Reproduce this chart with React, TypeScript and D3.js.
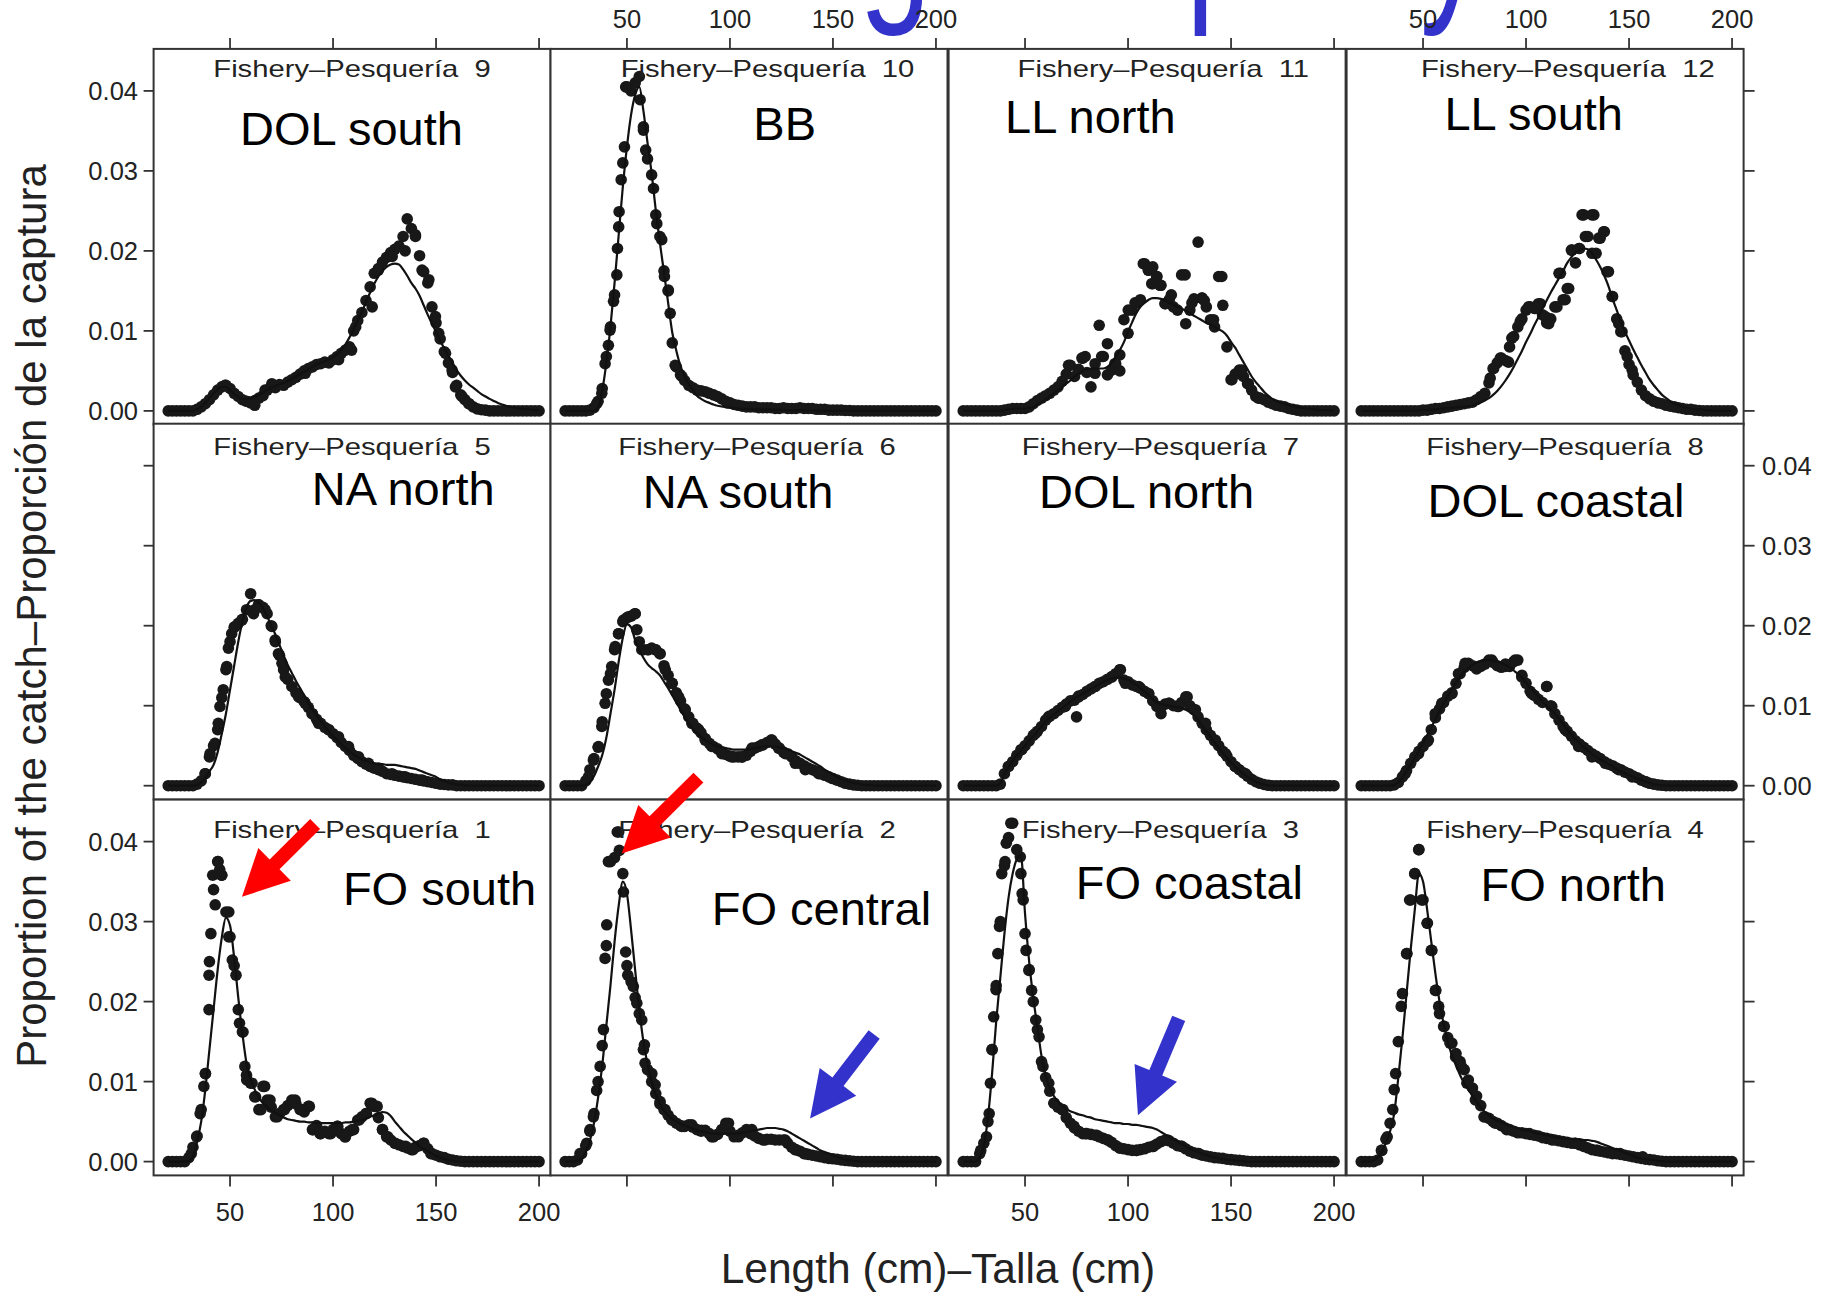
import React from "react";
import * as d3 from "d3";

// ---------- DATA (proportion of catch, in units of 0.001) ----------
const lengthBins: number[] = d3.range(20, 201, 2); // cm, 20..200

const obs9 = [
 0,0,0,0,0,0,0,0.2,0.5,0.9,
 1.4,2.0,2.6,3.0,3.2,2.8,2.2,1.8,1.4,1.2,
 1.0,1.3,1.6,1.9,2.6,3.0,2.9,3.3,3.2,3.6,
 3.9,4.2,4.6,5.0,5.3,5.5,5.8,5.9,6.1,6.0,
 6.4,6.8,7.2,7.6,8.0,10.0,11.3,12.3,13.8,15.5,
 17.2,17.8,18.6,19.2,19.8,20.2,20.6,21.8,24.0,22.8,
 21.8,19.4,17.4,16.0,13.0,11.0,9.0,7.4,6.0,4.8,
 3.2,2.0,1.4,0.9,0.5,0.25,0.15,0.1,0,0,
 0,0,0,0,0,0,0,0,0,0,
 0];
const fit9 = [
 0,0,0,0,0,0,0,0.2,0.5,1.0,
 1.6,2.2,2.7,3.0,3.0,2.6,2.1,1.7,1.5,1.5,
 1.6,1.8,2.0,2.3,2.6,2.9,3.1,3.3,3.5,3.7,
 4.0,4.3,4.6,4.9,5.2,5.5,5.8,6.0,6.2,6.4,
 6.7,7.1,7.6,8.3,9.2,10.2,11.3,12.4,13.6,14.8,
 15.9,16.8,17.5,18.0,18.3,18.4,18.3,17.7,16.9,16.0,
 15.3,14.4,13.2,12.0,10.9,9.9,8.8,7.8,6.9,6.0,
 5.1,4.4,3.8,3.3,2.9,2.5,2.1,1.8,1.5,1.25,
 1.0,0.8,0.65,0.5,0.4,0.3,0.25,0.2,0.15,0.1,
 0.08];
const extra9: [number, number][] = [
 [47.6,3.2],[59,1.15],[62,0.7],[67,2.6],[70.3,3.4],[86.5,4.7],[102.7,6.4],[109,7.6],[111,10.5],
 [119,13.0],[122,17.6],[128.7,19.3],[135,20.0],[140,22.0],[143.2,17.6],[146.5,16.4],[149.7,11.8],
 [151.3,9.7],[154.6,7.2],[157.8,5.1],[159.4,3.0],[162.6,1.8],[165.9,0.9]];

const obs10 = [
 0,0,0,0,0,0,0.1,0.4,1.2,2.8,
 6.8,10.5,14.5,23.0,31.0,40.5,40.0,41.0,41.8,35.5,
 31.5,29.5,24.5,21.8,17.5,15.0,8.5,5.5,4.5,3.8,
 3.2,2.9,2.6,2.5,2.4,2.2,2.0,1.8,1.5,1.2,
 1.0,0.8,0.7,0.6,0.5,0.5,0.5,0.4,0.4,0.4,
 0.4,0.3,0.3,0.4,0.3,0.3,0.3,0.4,0.3,0.3,
 0.3,0.2,0.2,0.2,0.1,0.1,0.1,0.1,0.05,0.05,
 0,0,0,0,0,0,0,0,0,0,
 0,0,0,0,0,0,0,0,0,0,
 0];
const fit10 = [
 0,0,0,0,0,0,0,0,0.4,2.5,
 6.0,10.5,16.0,22.0,28.0,33.0,37.0,39.5,40.5,37.5,
 33.5,29.7,25.1,21.0,17.3,13.5,9.8,7.5,5.6,4.3,
 3.3,2.6,1.9,1.5,1.2,1.0,0.8,0.65,0.55,0.45,
 0.4,0.35,0.3,0.3,0.25,0.25,0.2,0.2,0.2,0.2,
 0.15,0.15,0.15,0.1,0.1,0.1,0.1,0.1,0.05,0.05,
 0.05,0.05,0,0,0,0,0,0,0,0,
 0,0,0,0,0,0,0,0,0,0,
 0,0,0,0,0,0,0,0,0,0,
 0];
const extra10: [number, number][] = [
 [35.3,0.9],[37.8,2.2],[39.4,5.9],[41,8.2],[41.8,10.1],[43.5,13.7],[45.1,17.0],[45.4,20.3],[46.2,24.9],
 [47.2,28.9],[48.8,33.0],[49.4,40.5],[56.4,38.9],[58,35.1],[59.1,32.6],[62.9,27.8],[64.5,23.4],
 [66.9,21.4],[68.2,16.8],[70.1,15.1],[71,12.2],[73.4,5.7],[76.7,4.3]];

const obs11 = [
 0,0,0,0,0,0,0,0,0,0,
 0.1,0.2,0.3,0.3,0.3,0.3,0.5,0.9,1.3,1.6,
 1.9,2.2,2.6,3.0,3.7,4.6,5.7,4.3,5.2,6.6,
 4.8,3.0,4.7,10.7,6.8,8.4,5.1,5.9,7.0,11.4,
 9.7,12.6,13.5,13.9,18.4,17.6,15.9,16.8,15.7,13.4,
 13.9,13.0,12.6,17.0,10.9,12.6,14.0,21.1,14.1,13.0,
 11.4,10.5,16.8,13.2,8.0,3.9,4.6,5.1,4.3,3.4,
 2.6,1.8,1.6,1.4,1.1,0.9,0.7,0.6,0.5,0.3,
 0.2,0.1,0,0,0,0,0,0,0,0,
 0];
const fit11 = [
 0,0,0,0,0,0,0,0,0,0,
 0.1,0.2,0.25,0.3,0.3,0.3,0.35,0.5,0.85,1.1,
 1.4,1.8,2.2,2.6,3.0,3.4,3.8,4.3,4.7,5.0,
 5.2,5.3,5.3,5.3,5.3,5.5,6.0,6.8,7.6,8.6,
 9.9,11.1,12.2,13.0,13.5,13.9,14.1,14.1,14.0,13.8,
 13.5,13.3,13.0,12.8,12.5,12.2,11.9,11.6,11.3,11.0,
 10.8,10.5,10.2,9.9,9.4,8.6,7.9,7.0,6.1,5.2,
 4.3,3.6,3.0,2.4,1.9,1.5,1.2,1.0,0.85,0.7,
 0.6,0.5,0.4,0.3,0.25,0.2,0.15,0.1,0.08,0.05,
 0.03];
const extra11: [number, number][] = [
 [71.1,5.7],[77.6,6.6],[79.2,6.8],[84,5.9],[87.2,6.8],[90,4.5],[93.6,5.9],[96,5.0],[100.1,12.6],
 [103.4,13.5],[107.4,18.4],[109.8,17.6],[111.5,15.9],[112,18.0],[113.9,16.8],[115.5,15.7],[118,13.4],
 [121,14.5],[127.7,17.0],[131,13.5],[135.8,14.1],[137,13.8],[141.5,11.4],[145.5,16.8],[150.4,3.9],
 [155.2,5.1],[158.4,3.4],[163.3,1.6]];

const obs12 = [
 0,0,0,0,0,0,0,0,0,0,
 0,0,0,0,0,0.1,0.1,0.2,0.3,0.3,
 0.4,0.5,0.6,0.7,0.8,0.9,1.0,1.1,1.4,1.8,
 2.2,3.5,5.3,6.0,6.6,6.3,8.0,9.3,10.5,11.5,
 12.6,13.0,12.8,13.4,12.0,11.0,11.5,13.0,17.2,13.9,
 15.3,20.1,18.5,20.3,24.5,21.8,24.5,19.7,21.6,22.4,
 17.4,14.3,11.5,9.9,7.5,5.8,4.5,3.6,2.6,1.9,
 1.5,1.2,1.0,0.9,0.7,0.6,0.5,0.4,0.3,0.2,
 0.2,0.1,0.05,0,0,0,0,0,0,0,
 0];
const fit12 = [
 0,0,0,0,0,0,0,0,0,0,
 0,0,0,0,0.05,0.1,0.1,0.15,0.2,0.25,
 0.3,0.35,0.4,0.45,0.5,0.55,0.6,0.7,0.9,1.05,
 1.3,1.6,2.0,2.5,3.1,3.8,4.6,5.5,6.5,7.5,
 8.6,9.6,10.7,11.7,12.8,13.8,14.8,15.7,16.6,17.5,
 18.5,19.2,19.8,20.1,20.3,20.2,19.7,18.9,18.0,16.9,
 15.6,14.0,12.6,11.2,9.9,8.8,7.7,6.7,5.7,4.8,
 3.9,3.2,2.6,2.0,1.6,1.2,0.9,0.7,0.5,0.4,
 0.3,0.25,0.2,0.15,0.1,0.05,0,0,0,0,
 0];
const extra12: [number, number][] = [
 [82.6,4.1],[84.3,5.3],[87.5,6.6],[91.5,6.1],[93.1,9.1],[97.2,11.2],[101.2,13.0],[104.5,12.8],
 [106.9,13.4],[109.3,11.8],[111,10.9],[115,13.0],[116.7,17.2],[119,13.9],[120.7,15.3],[122.3,20.1],
 [125.6,20.3],[128.8,21.8],[127.2,24.5],[132,19.7],[132.9,24.5],[135.3,21.6],[137.7,22.4],
 [139.3,17.4],[141.8,14.3],[145,10.9],[146.6,9.9],[149.1,6.8],[151.5,5.1]];

const obs5 = [
 0,0,0,0,0,0,0,0.2,0.6,1.5,
 3.6,5.0,7.0,11.0,14.5,18.0,19.8,20.3,20.8,22.0,
 24.0,22.0,22.6,22.3,21.5,20.0,18.0,16.3,14.5,13.3,
 12.4,11.6,11.0,10.5,9.8,9.0,8.3,7.8,7.3,7.0,
 6.5,6.0,5.4,4.9,4.4,3.8,3.4,3.0,2.7,2.4,
 2.2,2.0,1.8,1.5,1.4,1.3,1.2,1.1,1.0,0.9,
 0.8,0.7,0.6,0.5,0.4,0.3,0.2,0.15,0.1,0.1,
 0,0,0,0,0,0,0,0,0,0,
 0,0,0,0,0,0,0,0,0,0,
 0];
const fit5 = [
 0,0,0,0,0,0,0,0.1,0.4,1.0,
 1.8,2.6,4.2,6.5,9.0,12.0,15.0,18.0,20.5,22.3,
 23.1,23.2,22.9,22.2,21.2,20.0,18.9,17.6,16.3,15.1,
 14.1,13.1,12.2,11.3,10.3,9.5,8.8,8.1,7.4,6.8,
 6.2,5.7,5.2,4.7,4.3,3.9,3.6,3.3,3.1,2.9,
 2.8,2.7,2.7,2.6,2.6,2.6,2.5,2.4,2.3,2.2,
 2.1,1.9,1.7,1.5,1.3,1.1,0.8,0.6,0.4,0.25,
 0.15,0.1,0.05,0,0,0,0,0,0,0,
 0,0,0,0,0,0,0,0,0,0,
 0];
const extra5: [number, number][] = [
 [37.9,1.5],[40.3,4.0],[42.7,5.3],[44.3,7.8],[45.1,9.9],[46.7,12.0],[48.4,14.9],[49.2,17.2],[50.8,19.0],
 [52.4,19.9],[55.7,20.7],[61.4,21.5],[63.8,22.6],[67,22.0],[70.3,19.9],[71.9,18.2],[73.5,16.5],
 [75.2,15.3],[76.8,13.6],[83.3,11.1],[86.5,10.3],[89.8,9.0],[93,7.8],[97.8,7.0],[102.7,6.1],
 [107.5,4.9],[112.4,3.6],[117.2,2.8],[122.1,2.2],[128.6,1.5],[135,1.1],[143.2,0.7]];

const obs6 = [
 0,0,0,0,0,0.6,2.0,3.4,4.8,8.0,
 11.5,14.0,17.0,19.0,20.5,21.0,21.2,21.5,18.0,17.0,
 17.0,17.2,17.0,16.5,15.0,13.8,12.8,11.6,10.6,9.6,
 8.6,7.8,7.2,6.6,5.9,5.3,4.9,4.6,4.2,3.9,
 3.7,3.6,3.6,3.6,3.8,4.3,4.7,4.9,5.1,5.4,
 5.7,5.2,4.7,4.2,4.0,3.6,3.1,2.8,2.5,2.2,
 2.0,1.8,1.5,1.3,1.1,0.9,0.7,0.5,0.3,0.2,
 0.1,0.05,0,0,0,0,0,0,0,0,
 0,0,0,0,0,0,0,0,0,0,
 0];
const fit6 = [
 0,0,0,0,0,0.1,0.4,1.2,2.4,3.8,
 6.0,9.0,12.0,15.5,18.5,20.2,19.8,18.2,17.0,16.0,
 15.2,14.7,14.3,13.8,13.0,12.2,11.3,10.4,9.5,8.6,
 7.8,7.1,6.6,6.1,5.7,5.4,5.1,4.9,4.8,4.7,
 4.6,4.5,4.5,4.5,4.5,4.6,4.7,4.8,4.9,4.9,
 4.9,4.9,4.8,4.7,4.5,4.3,4.1,3.9,3.6,3.3,
 3.0,2.7,2.4,2.0,1.7,1.4,1.1,0.9,0.7,0.5,
 0.35,0.25,0.15,0.1,0.05,0,0,0,0,0,
 0,0,0,0,0,0,0,0,0,0,
 0];
const extra6: [number, number][] = [
 [31.3,1.1],[33.7,3.2],[36.2,4.9],[37.8,7.4],[39.4,10.3],[41,13.2],[42.6,14.9],[44.3,17.4],[45.9,19.0],
 [48.3,20.7],[50.7,21.1],[53.9,21.5],[54.8,19.5],[57.2,17.0],[60.5,17.0],[63.7,17.0],[66.1,16.5],
 [68.6,14.5],[71.8,12.8],[75.1,11.1],[78.3,9.5],[81.5,7.8],[84.8,7.0],[88,5.7],[91.2,4.9],[96.1,4.0],
 [100.9,3.6],[105.8,3.6],[110.7,4.7],[115.5,5.1],[120.4,5.7],[123.6,4.7],[126.9,4.0],[131.7,2.8],
 [136.6,2.0],[143.1,1.5],[149.6,0.9]];

const obs7 = [
 0,0,0,0,0,0,0,0,0,0.2,
 1.5,2.4,3.0,3.8,4.5,5.0,5.6,6.3,6.8,7.4,
 8.2,8.7,9.0,9.4,9.8,10.2,10.6,10.7,11.2,11.4,
 11.8,12.1,12.4,12.8,13.0,13.3,13.6,14.0,14.5,13.2,
 13.0,12.6,12.4,12.2,11.8,11.5,10.6,9.9,9.8,10.2,
 10.3,10.0,9.9,10.4,11.1,10.0,9.5,8.6,7.8,7.0,
 6.3,5.6,5.0,4.3,3.7,3.0,2.4,2.0,1.6,1.2,
 0.8,0.5,0.3,0.15,0.05,0,0,0,0,0,
 0,0,0,0,0,0,0,0,0,0,
 0];
const fit7 = [
 0,0,0,0,0,0,0,0,0,0.3,
 1.4,2.3,3.1,3.8,4.4,5.0,5.6,6.2,6.8,7.4,
 8.0,8.5,8.9,9.3,9.7,10.1,10.5,10.9,11.2,11.5,
 11.8,12.1,12.4,12.7,13.0,13.2,13.4,13.5,13.5,13.4,
 13.2,12.9,12.6,12.2,11.8,11.3,10.8,10.4,10.2,10.1,
 10.0,9.9,9.8,9.7,9.5,9.2,8.8,8.2,7.5,6.8,
 6.1,5.4,4.7,4.1,3.5,2.9,2.4,1.9,1.5,1.1,
 0.8,0.5,0.3,0.15,0.05,0,0,0,0,0,
 0,0,0,0,0,0,0,0,0,0,
 0];
const extra7: [number, number][] = [
 [41.9,2.4],[48.4,4.5],[54.9,6.5],[61.4,8.6],[69.5,9.9],[75,8.6],[76,11.1],[84.1,12.4],[92.2,13.6],
 [96.3,14.5],[98.7,12.8],[105.2,12.4],[110,11.5],[114.9,9.9],[116,9.0],[119.8,10.3],[124.6,9.9],
 [128.7,11.1],[132.7,9.5],[137.6,7.8],[142.4,5.7],[147.3,4.0],[152.1,2.4],[157,1.5]];

const obs8 = [
 0,0,0,0,0,0,0,0,0.1,0.4,
 1.1,1.9,2.8,3.6,4.3,4.9,5.5,7.0,8.5,9.6,
 10.4,11.2,11.6,12.8,14.0,14.8,15.3,15.0,14.6,14.9,
 15.2,15.7,15.4,15.0,14.8,15.2,14.9,15.5,15.7,13.8,
 12.8,11.8,11.3,10.8,10.4,12.4,10.0,9.0,8.2,7.4,
 6.8,6.2,5.6,5.2,4.8,4.4,4.0,3.7,3.4,3.0,
 2.7,2.5,2.2,2.0,1.7,1.5,1.2,1.0,0.7,0.5,
 0.3,0.2,0.1,0.05,0,0,0,0,0,0,
 0,0,0,0,0,0,0,0,0,0,
 0];
const fit8 = [
 0,0,0,0,0,0,0,0,0.1,0.4,
 1.0,1.8,2.6,3.5,4.4,5.3,6.3,7.3,8.3,9.3,
 10.3,11.2,12.1,12.9,13.6,14.2,14.7,15.1,15.4,15.6,
 15.7,15.7,15.6,15.5,15.3,15.1,14.8,14.4,14.0,13.5,
 12.9,12.3,11.7,11.1,10.5,10.0,9.5,9.0,8.4,7.7,
 7.0,6.4,5.8,5.3,4.8,4.4,4.0,3.6,3.3,3.0,
 2.7,2.4,2.1,1.8,1.6,1.3,1.1,0.9,0.7,0.5,
 0.35,0.2,0.1,0.05,0,0,0,0,0,0,
 0,0,0,0,0,0,0,0,0,0,
 0];
const extra8: [number, number][] = [
 [41.3,1.5],[47.8,4.0],[52.6,5.7],[55.9,9.0],[59.1,10.3],[64,11.5],[67.2,14.0],[70.4,15.3],[76.9,14.9],
 [83.4,15.7],[89.9,14.9],[94.7,15.7],[97.9,13.6],[102.8,11.5],[110.1,12.4],[112.5,9.9],[119,7.0],
 [125.5,4.9],[132,3.6],[138.5,2.8],[145,2.0],[151.5,1.1],[158,0.5]];

const obs1 = [
 0,0,0,0,0,0.5,1.8,3.2,6.5,11.0,
 25.0,34.0,37.5,35.8,31.2,28.1,24.5,19.0,16.2,10.8,
 9.8,8.1,6.5,9.4,7.7,6.8,5.6,6.0,6.5,7.0,
 7.7,7.2,6.5,6.2,6.9,4.0,4.5,3.5,3.8,3.5,
 4.0,4.4,3.5,3.1,3.8,4.0,5.2,5.6,6.0,7.3,
 6.9,5.5,4.0,3.1,2.7,2.3,2.1,1.9,1.7,1.5,
 1.8,2.0,2.3,1.6,1.0,0.8,0.6,0.5,0.3,0.2,
 0.1,0.05,0,0,0,0,0,0,0,0,
 0,0,0,0,0,0,0,0,0,0,
 0];
const fit1 = [
 0,0,0,0,0,0.1,0.6,2.5,5.0,9.0,
 14.0,19.0,24.0,28.0,30.5,29.5,25.5,20.5,16.0,12.3,
 10.3,9.0,8.0,7.3,6.8,6.4,6.1,5.8,5.5,5.3,
 5.2,5.1,5.0,5.0,4.9,4.9,4.8,4.8,4.8,4.8,
 4.8,4.8,4.8,4.9,4.9,5.0,5.1,5.2,5.4,5.6,
 5.8,6.0,6.2,6.1,5.7,5.0,4.4,3.8,3.3,2.8,
 2.4,1.9,1.6,1.3,1.0,0.7,0.5,0.35,0.2,0.1,
 0.05,0,0,0,0,0,0,0,0,0,
 0,0,0,0,0,0,0,0,0,0,
 0];
const extra1: [number, number][] = [
 [31.2,1.0],[33.8,3.1],[35.5,6.0],[37.3,9.4],[38.1,11.0],[39.8,19.0],[39.8,23.3],[40.7,28.5],
 [42.8,32.1],[41.6,35.8],[44.2,37.5],[45,36.5],[45.9,35.8],[49.4,31.2],[49.4,28.1],[51.1,25.2],
 [52.9,23.3],[54.6,17.3],[56.3,16.2],[57.2,11.9],[58.1,10.2],[60.7,9.8],[62.4,8.1],[65,6.5],
 [66.8,9.4],[69.4,7.7],[72.9,5.6],[76.4,6.5],[81.6,7.7],[85,6.5],[88.5,6.9],[90.2,4.0],[93.7,3.5],
 [98.9,3.5],[102.3,4.4],[105.8,3.1],[109.3,4.0],[112.7,5.2],[116.2,6.0],[118.8,7.3],[121.4,6.9],
 [124,4.0],[126.6,3.1],[130.1,2.3],[135.3,1.9],[138.8,1.5],[144,2.3],[147.5,1.0]];

const obs2 = [
 0,0,0,0.2,1.0,2.0,3.8,6.0,10.0,14.5,
 27.0,37.5,38.0,41.2,36.0,24.5,22.5,20.5,18.5,14.0,
 11.5,10.0,8.5,7.2,6.5,5.8,5.2,4.8,4.5,4.4,
 4.6,4.3,4.0,3.8,3.9,3.5,3.1,3.4,4.0,4.8,
 3.8,3.1,3.3,3.6,4.0,3.5,3.2,2.9,2.7,2.8,
 2.8,2.7,2.7,2.7,2.3,1.8,1.5,1.3,1.0,0.9,
 0.8,0.7,0.6,0.5,0.4,0.35,0.3,0.2,0.15,0.1,
 0.05,0,0,0,0,0,0,0,0,0,
 0,0,0,0,0,0,0,0,0,0,
 0];
const fit2 = [
 0,0,0,0.1,0.4,1.2,2.6,4.8,8.0,12.0,
 17.0,22.0,27.5,32.0,35.0,33.5,29.0,23.9,19.0,15.0,
 12.2,10.0,8.4,7.2,6.4,5.8,5.3,5.0,4.7,4.5,
 4.3,4.1,3.9,3.8,3.7,3.6,3.5,3.5,3.5,3.5,
 3.5,3.5,3.5,3.6,3.7,3.8,3.9,4.0,4.1,4.2,
 4.2,4.2,4.1,4.0,3.8,3.5,3.2,2.9,2.6,2.3,
 2.0,1.7,1.4,1.2,1.0,0.8,0.6,0.4,0.3,0.2,
 0.1,0.05,0,0,0,0,0,0,0,0,
 0,0,0,0,0,0,0,0,0,0,
 0];
const extra2: [number, number][] = [
 [27.2,1.0],[30.5,2.3],[32.1,4.0],[33.7,5.6],[35.3,8.9],[37,11.9],[38.6,16.5],[39.4,25.4],[40.2,29.6],
 [41,37.5],[45.3,41.2],[46.3,38.9],[48.3,33.7],[49.4,26.2],[50.4,23.3],[53.1,21.9],[54.8,19.8],
 [57.2,17.7],[58.5,14.6],[58.8,12.3],[62.1,11.0],[63.7,9.6],[66.1,7.5],[68.5,6.5],[71.8,5.2],
 [76.6,4.4],[81.5,4.6],[86.3,3.9],[91.2,3.1],[99.3,4.8],[104.1,3.1],[110.6,4.0],[117.1,2.7],
 [126.8,2.7],[131.6,1.5],[136.5,1.0]];

const obs3 = [
 0,0,0,0,1.0,2.3,5.0,14.0,22.0,30.0,
 37.0,40.5,42.3,39.0,36.0,28.5,24.0,20.0,16.5,12.5,
 10.5,8.8,7.3,6.8,6.5,5.5,4.8,4.2,3.8,3.5,
 3.5,3.4,3.3,3.1,2.9,2.7,2.4,2.0,1.7,1.6,
 1.5,1.4,1.4,1.5,1.6,1.8,1.9,2.2,2.5,2.7,
 2.6,2.3,2.0,1.9,1.6,1.3,1.1,1.0,0.8,0.7,
 0.6,0.5,0.45,0.4,0.3,0.25,0.2,0.15,0.1,0.05,
 0,0,0,0,0,0,0,0,0,0,
 0,0,0,0,0,0,0,0,0,0,
 0];
const fit3 = [
 0,0,0,0,0.5,2.0,5.5,11.0,17.5,23.0,
 28.5,33.0,36.0,37.8,38.3,31.0,25.0,20.5,16.8,13.2,
 10.8,9.2,8.2,7.5,7.0,6.6,6.3,6.1,5.9,5.8,
 5.6,5.5,5.3,5.2,5.1,5.0,4.9,4.8,4.8,4.7,
 4.7,4.6,4.6,4.5,4.4,4.3,4.2,4.0,3.7,3.4,
 3.1,2.8,2.5,2.2,1.9,1.6,1.4,1.2,1.0,0.8,
 0.65,0.5,0.4,0.3,0.25,0.2,0.15,0.1,0.05,0,
 0,0,0,0,0,0,0,0,0,0,
 0,0,0,0,0,0,0,0,0,0,
 0];
const extra3: [number, number][] = [
 [28.5,1.4],[31.3,3.1],[32.6,6.0],[33.2,9.8],[34,14.0],[34.8,18.1],[35.9,21.5],[36.8,26.0],[37.6,29.4],
 [38.7,36.0],[40.3,37.5],[40.9,39.8],[43.1,42.3],[47.7,38.1],[48.6,33.5],[49.1,32.7],[50.5,26.4],
 [51.9,23.9],[53.2,21.4],[55.2,17.7],[56.8,15.6],[58.7,11.9],[61.5,9.8],[64.2,7.3],[68.4,6.5],
 [73.8,4.4],[79.3,3.5],[84.8,3.3],[90.3,2.7],[95.8,1.7],[104.1,1.4],[112.3,1.9],[119.2,2.7],
 [126,1.9],[134.3,1.0]];

const obs4 = [
 0,0,0,0,0.2,1.4,2.8,4.8,9.0,15.0,
 21.0,26.0,32.7,36.0,39.0,32.7,29.8,26.4,21.4,18.5,
 16.9,15.5,14.8,13.5,12.5,11.5,10.2,9.2,8.2,7.0,
 5.6,5.4,5.0,4.8,4.5,4.2,4.0,3.8,3.6,3.6,
 3.5,3.4,3.3,3.2,3.0,2.9,2.8,2.7,2.6,2.5,
 2.4,2.3,2.3,2.1,1.9,1.7,1.5,1.4,1.3,1.2,
 1.1,1.0,1.0,0.9,0.8,0.7,0.6,0.5,0.4,0.3,
 0.25,0.2,0.1,0.05,0,0,0,0,0,0,
 0,0,0,0,0,0,0,0,0,0,
 0];
const fit4 = [
 0,0,0,0.1,0.5,1.2,2.4,3.8,6.0,10.5,
 15.5,21.0,26.5,31.5,36.0,35.0,31.5,27.5,23.5,20.0,
 17.2,15.0,13.3,12.0,10.8,9.8,9.0,8.2,7.5,6.8,
 6.2,5.8,5.4,5.1,4.9,4.7,4.5,4.3,4.2,4.0,
 3.9,3.8,3.6,3.5,3.4,3.3,3.2,3.1,3.0,2.9,
 2.9,2.8,2.8,2.8,2.7,2.7,2.6,2.5,2.3,2.1,
 1.9,1.7,1.5,1.3,1.1,0.9,0.7,0.5,0.4,0.3,
 0.25,0.2,0.1,0.05,0,0,0,0,0,0,
 0,0,0,0,0,0,0,0,0,0,
 0];
const extra4: [number, number][] = [
 [29.8,1.4],[32.6,3.1],[35.3,6.5],[36.7,11.0],[39.4,19.4],[42.2,26.0],[43.5,32.7],[46,36.0],[47.9,39.0],
 [49.3,32.7],[52.1,29.8],[54.3,26.4],[56.2,21.4],[57.6,19.4],[60.3,16.9],[63.1,14.8],[65.8,13.1],
 [68.6,11.9],[71.3,9.8],[75.4,7.7],[79.6,5.6],[85.1,4.8],[90.6,4.0],[101.6,3.5],[112.6,2.7],
 [123.6,2.3],[134.6,1.4],[145.6,1.0],[156.6,0.6]];

// panel order: top row 9-12, middle 5-8, bottom 1-4
const fisheryNumbers = [9, 10, 11, 12, 5, 6, 7, 8, 1, 2, 3, 4];
const fleetNames = ["DOL south", "BB", "LL north", "LL south", "NA north", "NA south",
  "DOL north", "DOL coastal", "FO south", "FO central", "FO coastal", "FO north"];
const observed = [obs9, obs10, obs11, obs12, obs5, obs6, obs7, obs8, obs1, obs2, obs3, obs4];
const extraObserved = [extra9, extra10, extra11, extra12, extra5, extra6, extra7, extra8, extra1, extra2, extra3, extra4];
const fitted = [fit9, fit10, fit11, fit12, fit5, fit6, fit7, fit8, fit1, fit2, fit3, fit4];

const xTickValues = [50, 100, 150, 200];
const yTickValues = [0, 10, 20, 30, 40]; // x 0.001

// annotation arrows: [panel index, colour, from (cm, 0.001), to (cm, 0.001)]
const RED = "#ff0000";
const BLUE = "#3333cc";
const arrowSpecs: [number, string, [number, number], [number, number]][] = [
  [8, RED, [91.3, 42.2], [55.8, 33.1]],
  [9, RED, [84.7, 48.0], [47.5, 38.5]],
  [9, BLUE, [170, 15.9], [138.9, 5.4]],
  [10, BLUE, [124.6, 17.9], [104.8, 5.8]],
];

// cut-off slide title: only the descenders of three letters remain visible
const titleGlyphs: [string, number][] = [["g", 859], ["p", 1186], ["y", 1420]];

// ---------- LAYOUT ----------
const W = 1825, H = 1292;
const COL_X = [153.6, 550.5, 948.6, 1346.6];
const ROW_Y = [48.9, 423.7, 799.6];
const PW = 397, PH = 375.8;
const STRIP_CX = [198.4, 217, 214.7, 221.2, 198.4, 206.5, 211.8, 218.4, 198.4, 206.5, 211.8, 218.4];
const STRIP_BASE = [27.8, 31.3, 38.7];
const LABEL_POS: [number, number][] = [
  [86.4, 96.1], [202.8, 91.1], [56.4, 84.4], [97.8, 81.1],
  [158.1, 81.3], [92.2, 84.6], [90.4, 84.6], [80.9, 93],
  [189.3, 105.4], [161.2, 125.4], [127.2, 99.7], [133.9, 101.4],
];
const FONT = "'Liberation Sans', Arial, Helvetica, sans-serif";
const INK = "#181818";
const DOT_R = 5.8;

const xScale = d3.scaleLinear().domain([12.9, 205.6]).range([0, PW]);
const yScale = d3.scaleLinear().domain([-1.725, 45.25]).range([PH, 0]);

function arrowPolygon(x0: number, y0: number, x1: number, y1: number) {
  const shaft = 14, headL = 46, headW = 46;
  const dx = x1 - x0, dy = y1 - y0;
  const L = Math.hypot(dx, dy);
  const ux = dx / L, uy = dy / L;
  const px = -uy, py = ux;
  const bx = x1 - ux * headL, by = y1 - uy * headL;
  const s = shaft / 2, h = headW / 2;
  const pts = [
    [x0 + px * s, y0 + py * s],
    [bx + px * s, by + py * s],
    [bx + px * h, by + py * h],
    [x1, y1],
    [bx - px * h, by - py * h],
    [bx - px * s, by - py * s],
    [x0 - px * s, y0 - py * s],
  ];
  return pts.map((p) => p.join(",")).join(" ");
}

export default function App() {
  const line = d3
    .line<number>()
    .x((_, i) => xScale(lengthBins[i]))
    .y((d) => yScale(d))
    .curve(d3.curveMonotoneX);
  const fmtY = (v: number) => d3.format(".2f")(v / 1000);

  return (
    <svg
      width={W}
      height={H}
      viewBox={`0 0 ${W} ${H}`}
      style={{ position: "absolute", left: 0, top: 0, background: "#fff" }}
      fontFamily={FONT}
    >
      <rect x={0} y={0} width={W} height={H} fill="#fff" />

      {/* cut-off blue slide title (only descenders visible) */}
      <g fill={BLUE} fontSize={185}>
        {titleGlyphs.map(([ch, gx]) => (
          <text key={ch} transform={`translate(${gx},-3) scale(0.7,1)`}>{ch}</text>
        ))}
      </g>

      {fisheryNumbers.map((num, k) => {
        const r = Math.floor(k / 4), c = k % 4;
        const tx = COL_X[c], ty = ROW_Y[r];
        return (
          <g key={num} transform={`translate(${tx},${ty})`}>
            <rect x={0} y={0} width={PW} height={PH} fill="#fff" />
            <g fill={INK}>
              {observed[k].map((v, i) => (
                <circle key={i} cx={xScale(lengthBins[i])} cy={yScale(v)} r={DOT_R} />
              ))}
              {extraObserved[k].map((d, i) => (
                <circle key={"e" + i} cx={xScale(d[0])} cy={yScale(d[1])} r={DOT_R} />
              ))}
            </g>
            <path d={line(fitted[k]) || ""} fill="none" stroke="#111" strokeWidth={2.2} />
            <text
              transform={`translate(${STRIP_CX[k]},${STRIP_BASE[r]}) scale(1.27,1)`}
              textAnchor="middle"
              fontSize={23}
              fill="#222"
            >
              {`Fishery\u2013Pesquer\u00eda\u00a0\u00a0${num}`}
            </text>
            <text x={LABEL_POS[k][0]} y={LABEL_POS[k][1]} fontSize={47} fill="#000">
              {fleetNames[k]}
            </text>
            <rect x={0} y={0} width={PW} height={PH} fill="none" stroke="#333" strokeWidth={2} />
          </g>
        );
      })}

      {/* top & bottom x-axis ticks */}
      {COL_X.map((cx, c) => (
        <g key={"xt" + c} transform={`translate(${cx},0)`} stroke="#333" strokeWidth={1.8}>
          {xTickValues.map((t) => (
            <g key={t}>
              <line x1={xScale(t)} x2={xScale(t)} y1={ROW_Y[0]} y2={ROW_Y[0] - 11} />
              <line x1={xScale(t)} x2={xScale(t)} y1={ROW_Y[2] + PH} y2={ROW_Y[2] + PH + 11} />
            </g>
          ))}
        </g>
      ))}
      {/* x tick labels: top for cols 1,3; bottom for cols 0,2 */}
      <g fontSize={25.5} fill="#222" textAnchor="middle">
        {[1, 3].map((c) =>
          xTickValues.map((t) => (
            <text key={"tl" + c + t} x={COL_X[c] + xScale(t)} y={28}>{t}</text>
          ))
        )}
        {[0, 2].map((c) =>
          xTickValues.map((t) => (
            <text key={"bl" + c + t} x={COL_X[c] + xScale(t)} y={1220.5}>{t}</text>
          ))
        )}
      </g>

      {/* y ticks left & right */}
      {ROW_Y.map((ry, r) => (
        <g key={"yt" + r} stroke="#333" strokeWidth={1.8}>
          {yTickValues.map((t) => (
            <g key={t}>
              <line x1={COL_X[0]} x2={COL_X[0] - 10} y1={ry + yScale(t)} y2={ry + yScale(t)} />
              <line x1={COL_X[3] + PW} x2={COL_X[3] + PW + 11} y1={ry + yScale(t)} y2={ry + yScale(t)} />
            </g>
          ))}
        </g>
      ))}
      <g fontSize={25.5} fill="#222" dominantBaseline="central">
        {[0, 2].map((r) =>
          yTickValues.map((t) => (
            <text key={"yl" + r + t} x={138} y={ROW_Y[r] + yScale(t)} textAnchor="end">{fmtY(t)}</text>
          ))
        )}
        {yTickValues.map((t) => (
          <text key={"yr" + t} x={1762} y={ROW_Y[1] + yScale(t)} textAnchor="start">{fmtY(t)}</text>
        ))}
      </g>

      {/* axis titles */}
      <text
        transform={`translate(45.5,616) rotate(-90)`}
        textAnchor="middle"
        fontSize={42}
        fill="#222"
      >
        {"Proportion of the catch\u2013Proporci\u00f3n de la captura"}
      </text>
      <text x={938} y={1283} textAnchor="middle" fontSize={42.5} fill="#222">
        {"Length (cm)\u2013Talla (cm)"}
      </text>

      {/* annotation arrows */}
      {arrowSpecs.map(([k, col, from, to], i) => {
        const r = Math.floor(k / 4), c = k % 4;
        const ox = COL_X[c], oy = ROW_Y[r];
        return (
          <polygon
            key={"ar" + i}
            points={arrowPolygon(
              ox + xScale(from[0]), oy + yScale(from[1]),
              ox + xScale(to[0]), oy + yScale(to[1])
            )}
            fill={col}
          />
        );
      })}
    </svg>
  );
}
